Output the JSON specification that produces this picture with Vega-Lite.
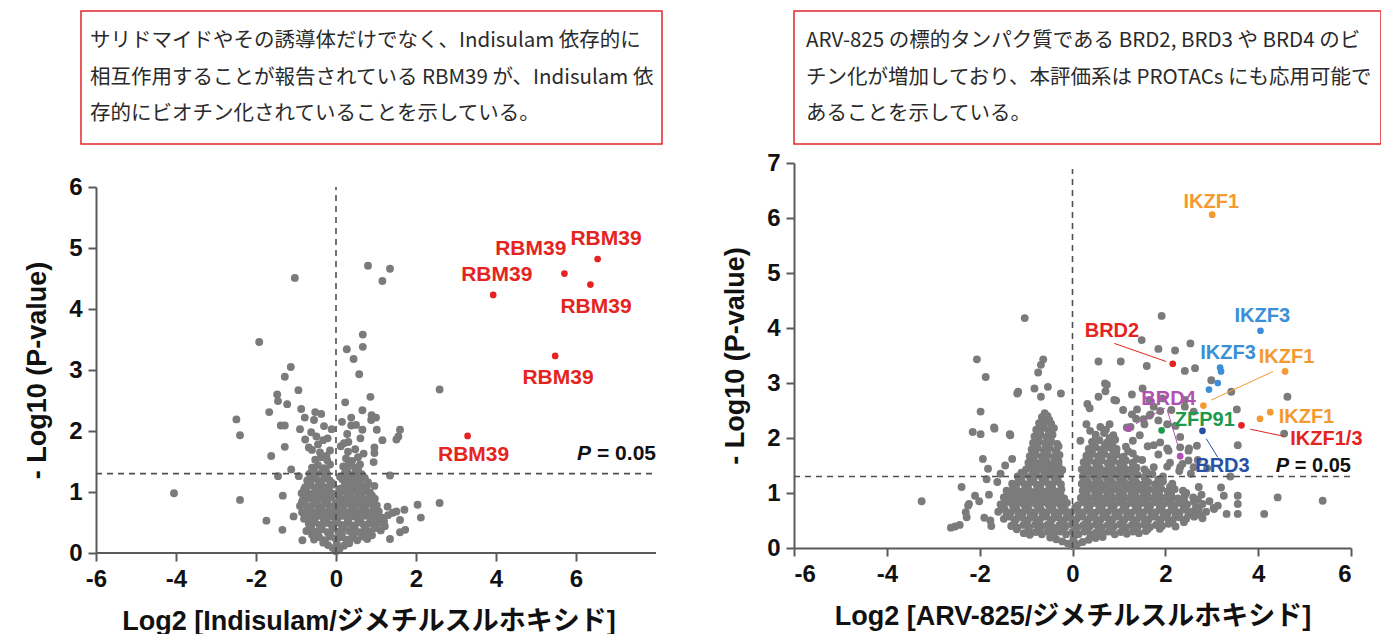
{
"$schema": "https://vega.github.io/schema/vega-lite/v6.json",
"background": "white",
"padding": {"left": 23, "top": 10, "right": 0, "bottom": 0},
"config": {
  "view": {"stroke": null},
  "font": "Liberation Sans",
  "axis": {"grid": false, "domainColor": "#5a5a5a", "domainWidth": 2, "tickColor": "#5a5a5a", "tickWidth": 2, "tickSize": 8,
    "labelFont": "Liberation Sans", "labelFontSize": 24, "labelFontWeight": "bold", "labelColor": "#111",
    "titleFont": "Liberation Sans, Noto Sans CJK JP", "titleFontSize": 27, "titleFontWeight": "bold", "titleColor": "#111",
    "labelExpr": "'' + datum.value"},
  "axisX": {"labelPadding": 6, "titlePadding": 17},
  "axisY": {"labelPadding": 6, "titlePadding": 17}
},
"datasets": {
  "boxL": [
    {"line": 1, "t": "サリドマイドやその誘導体だけでなく、Indisulam 依存的に"},
    {"line": 2, "t": "相互作用することが報告されている RBM39 が、Indisulam 依"},
    {"line": 3, "t": "存的にビオチン化されていることを示している。"}
  ],
  "boxR": [
    {"line": 1, "t": "ARV-825 の標的タンパク質である BRD2, BRD3 や BRD4 のビオ"},
    {"line": 2, "t": "チン化が増加しており、本評価系は PROTACs にも応用可能で"},
    {"line": 3, "t": "あることを示している。"}
  ],
  "gL": [
    {"x":-1.03,"y":4.51},{"x":0.80,"y":4.71},{"x":1.35,"y":4.66},{"x":1.16,"y":4.46},{"x":-1.92,"y":3.46},{"x":0.67,"y":3.58},{"x":0.67,"y":3.38},{"x":0.27,"y":3.34},{"x":0.44,"y":3.18},{"x":0.58,"y":2.93},
    {"x":-1.13,"y":3.05},{"x":-1.28,"y":2.89},{"x":-0.94,"y":2.67},{"x":-1.47,"y":2.60},{"x":-1.45,"y":2.49},{"x":-1.22,"y":2.44},{"x":2.59,"y":2.68},{"x":0.86,"y":2.56},{"x":0.23,"y":2.47},{"x":-2.49,"y":2.19},
    {"x":-2.40,"y":1.93},{"x":-1.67,"y":2.31},{"x":-0.87,"y":2.36},{"x":-0.52,"y":2.31},{"x":-0.37,"y":2.28},{"x":-0.78,"y":2.22},{"x":-0.55,"y":2.18},{"x":-1.38,"y":2.09},{"x":-1.28,"y":2.09},{"x":-0.90,"y":2.03},
    {"x":-0.11,"y":2.03},{"x":0.66,"y":2.34},{"x":0.38,"y":2.22},{"x":0.38,"y":2.09},{"x":0.89,"y":2.26},{"x":1.00,"y":2.22},{"x":0.88,"y":2.18},{"x":1.02,"y":2.02},{"x":1.60,"y":2.02},{"x":1.51,"y":1.86},
    {"x":1.56,"y":1.91},{"x":1.16,"y":1.85},{"x":0.66,"y":2.02},{"x":0.61,"y":1.88},{"x":0.31,"y":1.82},{"x":0.12,"y":1.75},{"x":-0.21,"y":1.88},{"x":-0.32,"y":1.85},{"x":-0.49,"y":1.91},{"x":-0.77,"y":1.86},
    {"x":-0.68,"y":1.73},{"x":-0.60,"y":1.69},{"x":-1.28,"y":1.74},{"x":-1.62,"y":1.59},{"x":-0.24,"y":1.59},{"x":0.96,"y":1.73},{"x":0.96,"y":1.64},{"x":0.69,"y":1.63},{"x":0.94,"y":1.49},{"x":-1.12,"y":1.37},
    {"x":-1.45,"y":1.26},{"x":1.35,"y":1.27},{"x":-0.93,"y":1.26},{"x":0.96,"y":1.10},{"x":-4.05,"y":0.98},{"x":-2.40,"y":0.87},{"x":-1.33,"y":0.94},{"x":-1.74,"y":0.53},{"x":-1.34,"y":0.38},{"x":-0.84,"y":0.21},
    {"x":-1.06,"y":0.60},{"x":2.59,"y":0.82},{"x":2.04,"y":0.79},{"x":2.12,"y":0.58},{"x":1.71,"y":0.71},{"x":1.73,"y":0.38},{"x":1.60,"y":0.34},{"x":1.35,"y":0.23},{"x":1.11,"y":0.56},{"x":1.29,"y":0.76},
    {"x":1.51,"y":0.68},{"x":1.60,"y":0.54},
    {"x":0.0,"y":0.03},{"x":-0.08,"y":0.08},{"x":0.09,"y":0.07},{"x":-0.2,"y":0.13},{"x":0.2,"y":0.12},{"x":0.02,"y":0.15},{"x":-0.32,"y":0.17},{"x":0.33,"y":0.16},
    {"x":-0.55,"y":0.22},{"x":-0.42,"y":0.26},{"x":-0.28,"y":0.21},{"x":-0.15,"y":0.27},{"x":-0.02,"y":0.24},{"x":0.12,"y":0.26},{"x":0.26,"y":0.22},{"x":0.4,"y":0.25},{"x":0.53,"y":0.21},{"x":0.66,"y":0.27},{"x":0.78,"y":0.23},{"x":-0.6,"y":0.3},{"x":0.9,"y":0.29},
    {"x":-0.74,"y":0.36},{"x":-0.62,"y":0.41},{"x":-0.49,"y":0.35},{"x":-0.35,"y":0.39},{"x":-0.21,"y":0.34},{"x":-0.08,"y":0.4},{"x":0.06,"y":0.35},{"x":0.19,"y":0.41},{"x":0.33,"y":0.36},{"x":0.47,"y":0.4},{"x":0.6,"y":0.34},{"x":0.73,"y":0.39},{"x":0.87,"y":0.35},{"x":1.0,"y":0.41},{"x":1.12,"y":0.37},
    {"x":-0.68,"y":0.48},{"x":-0.55,"y":0.5},{"x":-0.41,"y":0.46},{"x":-0.27,"y":0.49},{"x":-0.13,"y":0.47},{"x":0.01,"y":0.5},{"x":0.14,"y":0.46},{"x":0.28,"y":0.49},{"x":0.41,"y":0.45},{"x":0.55,"y":0.5},{"x":0.68,"y":0.47},{"x":0.82,"y":0.48},{"x":0.95,"y":0.46},{"x":1.08,"y":0.5},{"x":1.22,"y":0.44},
    {"x":-0.8,"y":0.56},{"x":-0.66,"y":0.6},{"x":-0.52,"y":0.57},{"x":-0.38,"y":0.61},{"x":-0.24,"y":0.56},{"x":-0.1,"y":0.6},{"x":0.04,"y":0.57},{"x":0.17,"y":0.61},{"x":0.31,"y":0.56},{"x":0.45,"y":0.6},{"x":0.58,"y":0.56},{"x":0.72,"y":0.61},{"x":0.86,"y":0.57},{"x":0.99,"y":0.6},{"x":1.15,"y":0.58},{"x":1.3,"y":0.62},
    {"x":-0.85,"y":0.67},{"x":-0.72,"y":0.7},{"x":-0.58,"y":0.66},{"x":-0.44,"y":0.7},{"x":-0.3,"y":0.67},{"x":-0.16,"y":0.71},{"x":-0.03,"y":0.66},{"x":0.1,"y":0.7},{"x":0.24,"y":0.67},{"x":0.38,"y":0.71},{"x":0.51,"y":0.66},{"x":0.65,"y":0.7},{"x":0.79,"y":0.67},{"x":0.93,"y":0.71},{"x":1.07,"y":0.68},{"x":1.42,"y":0.66},
    {"x":-0.9,"y":0.77},{"x":-0.77,"y":0.8},{"x":-0.63,"y":0.76},{"x":-0.49,"y":0.8},{"x":-0.35,"y":0.77},{"x":-0.21,"y":0.81},{"x":-0.08,"y":0.76},{"x":0.05,"y":0.8},{"x":0.19,"y":0.77},{"x":0.33,"y":0.81},{"x":0.46,"y":0.76},{"x":0.6,"y":0.8},{"x":0.74,"y":0.77},{"x":0.88,"y":0.81},{"x":1.02,"y":0.78},
    {"x":-0.82,"y":0.88},{"x":-0.68,"y":0.9},{"x":-0.54,"y":0.87},{"x":-0.4,"y":0.9},{"x":-0.26,"y":0.88},{"x":-0.12,"y":0.91},{"x":0.12,"y":0.87},{"x":0.26,"y":0.9},{"x":0.4,"y":0.88},{"x":0.54,"y":0.91},{"x":0.68,"y":0.87},{"x":0.82,"y":0.9},{"x":0.97,"y":0.89},
    {"x":-0.86,"y":0.98},{"x":-0.73,"y":1.0},{"x":-0.59,"y":0.97},{"x":-0.45,"y":1.01},{"x":-0.31,"y":0.98},{"x":-0.17,"y":1.02},{"x":-0.05,"y":0.97},{"x":0.15,"y":1.01},{"x":0.29,"y":0.98},{"x":0.43,"y":1.02},{"x":0.57,"y":0.97},{"x":0.71,"y":1.01},{"x":0.85,"y":0.99},
    {"x":-0.77,"y":1.08},{"x":-0.63,"y":1.11},{"x":-0.49,"y":1.07},{"x":-0.35,"y":1.1},{"x":-0.21,"y":1.08},{"x":-0.08,"y":1.12},{"x":0.2,"y":1.09},{"x":0.34,"y":1.12},{"x":0.48,"y":1.08},{"x":0.62,"y":1.11},{"x":0.77,"y":1.09},
    {"x":-0.72,"y":1.19},{"x":-0.58,"y":1.22},{"x":-0.44,"y":1.18},{"x":-0.3,"y":1.22},{"x":-0.16,"y":1.19},{"x":0.16,"y":1.21},{"x":0.3,"y":1.18},{"x":0.44,"y":1.22},{"x":0.58,"y":1.19},{"x":0.72,"y":1.23},
    {"x":-0.66,"y":1.3},{"x":-0.5,"y":1.28},{"x":-0.36,"y":1.32},{"x":-0.22,"y":1.29},{"x":0.22,"y":1.31},{"x":0.36,"y":1.28},{"x":0.5,"y":1.32},{"x":0.64,"y":1.29},
    {"x":-0.6,"y":1.4},{"x":-0.45,"y":1.44},{"x":-0.3,"y":1.39},{"x":-0.15,"y":1.45},{"x":0.18,"y":1.42},{"x":0.32,"y":1.46},{"x":0.47,"y":1.4},{"x":0.6,"y":1.45},
    {"x":-0.52,"y":1.53},{"x":-0.38,"y":1.57},{"x":-0.22,"y":1.52},{"x":0.25,"y":1.55},{"x":0.4,"y":1.51},{"x":0.55,"y":1.57},
    {"x":-0.4,"y":1.65},{"x":-0.15,"y":1.68},{"x":0.3,"y":1.66},{"x":0.48,"y":1.7},
    {"x":-0.45,"y":1.78},{"x":0.2,"y":1.8},{"x":0.28,"y":1.95},{"x":-0.62,"y":1.98},{"x":0.5,"y":2.1},{"x":-0.3,"y":2.08},{"x":0.15,"y":2.15},
    {"x":-0.45,"y":0.31},{"x":-0.15,"y":0.32},{"x":0.15,"y":0.31},{"x":0.45,"y":0.32},{"x":0.75,"y":0.31},
    {"x":-0.6,"y":0.53},{"x":-0.3,"y":0.53},{"x":0.0,"y":0.54},{"x":0.3,"y":0.53},{"x":0.6,"y":0.53},{"x":0.9,"y":0.54},{"x":1.2,"y":0.52},
    {"x":-0.73,"y":0.63},{"x":-0.45,"y":0.64},{"x":-0.17,"y":0.63},{"x":0.1,"y":0.64},{"x":0.38,"y":0.63},{"x":0.66,"y":0.64},{"x":0.94,"y":0.63},
    {"x":-0.7,"y":0.74},{"x":-0.42,"y":0.73},{"x":-0.14,"y":0.74},{"x":0.12,"y":0.73},{"x":0.4,"y":0.74},{"x":0.68,"y":0.73},{"x":0.95,"y":0.74},
    {"x":-0.85,"y":0.84},{"x":-0.56,"y":0.83},{"x":-0.28,"y":0.84},{"x":0.0,"y":0.83},{"x":0.26,"y":0.84},{"x":0.54,"y":0.83},{"x":0.82,"y":0.84},
    {"x":-0.75,"y":0.94},{"x":-0.47,"y":0.93},{"x":-0.19,"y":0.94},{"x":0.08,"y":0.93},{"x":0.36,"y":0.94},{"x":0.64,"y":0.93},{"x":0.9,"y":0.94},
    {"x":-0.8,"y":1.04},{"x":-0.52,"y":1.05},{"x":-0.24,"y":1.04},{"x":0.08,"y":1.05},{"x":0.36,"y":1.04},{"x":0.64,"y":1.05},
    {"x":-0.65,"y":1.15},{"x":-0.37,"y":1.14},{"x":-0.1,"y":1.15},{"x":0.25,"y":1.14},{"x":0.52,"y":1.15},{"x":0.8,"y":1.16},
    {"x":-0.52,"y":1.25},{"x":-0.24,"y":1.26},{"x":0.1,"y":1.25},{"x":0.3,"y":1.26},{"x":0.57,"y":1.25},
    {"x":-0.55,"y":1.36},{"x":-0.25,"y":1.35},{"x":0.28,"y":1.36},{"x":0.55,"y":1.37}
  ],
  "hL": [
    {"x":6.54,"y":4.82,"g":"RBM39"},{"x":5.71,"y":4.58,"g":"RBM39"},{"x":6.36,"y":4.40,"g":"RBM39"},{"x":3.93,"y":4.23,"g":"RBM39"},{"x":5.48,"y":3.23,"g":"RBM39"},{"x":3.29,"y":1.92,"g":"RBM39"}
  ],
  "lL": [
    {"t":"RBM39","x":6.75,"y":5.15,"g":"RBM39"},{"t":"RBM39","x":4.87,"y":4.99,"g":"RBM39"},{"t":"RBM39","x":4.02,"y":4.56,"g":"RBM39"},{"t":"RBM39","x":6.5,"y":4.04,"g":"RBM39"},{"t":"RBM39","x":5.55,"y":2.87,"g":"RBM39"},{"t":"RBM39","x":3.44,"y":1.6,"g":"RBM39"}
  ],
  "gR": [
    {"x":-1.03,"y":4.18},{"x":1.92,"y":4.22},{"x":1.49,"y":3.78},{"x":1.85,"y":3.62},{"x":2.21,"y":3.59},{"x":2.54,"y":3.72},{"x":0.56,"y":3.39},{"x":1.04,"y":3.39},{"x":1.6,"y":3.31},{"x":2.42,"y":3.22},
    {"x":2.64,"y":3.27},{"x":2.99,"y":3.05},{"x":3.42,"y":2.84},{"x":4.63,"y":2.75},{"x":3.54,"y":2.52},{"x":3.56,"y":1.87},{"x":4.56,"y":2.08},{"x":-2.06,"y":3.43},{"x":-1.87,"y":3.11},{"x":-0.63,"y":3.43},
    {"x":-0.68,"y":3.33},{"x":-0.74,"y":3.19},{"x":-1.17,"y":2.84},{"x":-0.82,"y":2.9},{"x":-0.53,"y":2.93},{"x":-0.25,"y":2.81},{"x":-0.68,"y":2.75},{"x":-1.98,"y":2.48},{"x":-1.68,"y":2.17},{"x":-2.15,"y":2.11},
    {"x":-1.98,"y":2.07},{"x":-1.34,"y":2.05},{"x":-1.93,"y":1.62},{"x":-1.82,"y":1.44},{"x":-2.39,"y":1.11},{"x":-2.25,"y":0.77},{"x":-3.25,"y":0.85},{"x":-2.53,"y":0.39},{"x":-2.62,"y":0.37},{"x":-2.01,"y":0.85},
    {"x":-1.77,"y":0.5},{"x":4.13,"y":0.62},{"x":4.42,"y":0.92},{"x":5.39,"y":0.86},{"x":3.56,"y":0.95},{"x":3.56,"y":0.8},{"x":3.56,"y":0.62},{"x":3.26,"y":0.95},{"x":3.13,"y":0.77},{"x":3.04,"y":0.73},
    {"x":3.32,"y":0.62},{"x":2.7,"y":0.68},{"x":-2.23,"y":0.8},{"x":-2.28,"y":0.56},{"x":-2.43,"y":0.42},{"x":-1.8,"y":0.97},
    {"x":0.74,"y":2.97},{"x":0.71,"y":2.85},{"x":0.32,"y":2.62},{"x":0.94,"y":2.68},{"x":1.28,"y":2.79},{"x":1.39,"y":2.52},{"x":1.51,"y":2.9},{"x":1.66,"y":2.69},{"x":1.75,"y":2.57},{"x":0.37,"y":2.54},
    {"x":1.09,"y":2.51},{"x":1.37,"y":2.35},{"x":1.66,"y":2.41},{"x":1.85,"y":2.32},{"x":1.94,"y":2.72},{"x":2.13,"y":2.51},{"x":2.42,"y":2.57},{"x":2.61,"y":2.48},{"x":2.42,"y":2.69},{"x":1.75,"y":1.87},
    {"x":2.04,"y":1.81},{"x":2.04,"y":1.48},{"x":2.51,"y":1.81},{"x":2.32,"y":2.02},{"x":2.37,"y":1.53},{"x":-1.19,"y":2.81},{"x":-1.69,"y":2.19},{"x":-1.35,"y":2.07},{"x":0.17,"y":1.95},{"x":0.38,"y":2.13},
    {"x":1.17,"y":2.19},{"x":1.28,"y":2.43},{"x":1.53,"y":2.34},{"x":1.68,"y":2.43},{"x":1.89,"y":2.49},{"x":2.04,"y":2.25},{"x":2.22,"y":2.22},{"x":1.89,"y":1.92},{"x":2.07,"y":1.77},{"x":2.32,"y":1.83},
    {"x":2.5,"y":1.77},{"x":2.68,"y":1.86},{"x":2.5,"y":1.59},{"x":2.61,"y":1.47},{"x":2.72,"y":1.11},{"x":2.32,"y":1.47},{"x":0.9,"y":2.69},{"x":0.56,"y":2.75},{"x":0.7,"y":2.99},
    {"x":-1.45,"y":1.5},{"x":-1.3,"y":1.62},{"x":-1.55,"y":1.35},{"x":-1.62,"y":1.2},{"x":-2.3,"y":0.65},{"x":-2.1,"y":0.95},{"x":-1.85,"y":1.25},{"x":-1.75,"y":0.4},{"x":-1.9,"y":0.55},
    {"x":1.3,"y":1.95},{"x":1.45,"y":2.05},{"x":1.62,"y":1.85},{"x":1.85,"y":1.7},{"x":2.1,"y":1.55},{"x":2.3,"y":1.4},{"x":2.55,"y":1.35},{"x":2.7,"y":1.6},{"x":2.9,"y":1.45},{"x":3.2,"y":1.1},{"x":3.4,"y":1.3},{"x":1.25,"y":2.2},{"x":1.55,"y":2.25},{"x":0.3,"y":2.25},
    {"x":0.0,"y":0.03},{"x":-0.1,"y":0.08},{"x":0.1,"y":0.07},{"x":-0.22,"y":0.12},{"x":0.22,"y":0.11},{"x":-0.35,"y":0.16},{"x":0.35,"y":0.15},{"x":0.5,"y":0.18},{"x":-0.48,"y":0.19},{"x":0.65,"y":0.2},{"x":0.02,"y":0.17},
    {"x":-1.05,"y":0.27},{"x":-0.92,"y":0.24},{"x":-0.79,"y":0.29},{"x":-0.66,"y":0.25},{"x":-0.53,"y":0.3},{"x":-0.4,"y":0.26},{"x":-0.27,"y":0.3},{"x":-0.14,"y":0.25},{"x":0.0,"y":0.29},{"x":0.13,"y":0.25},{"x":0.26,"y":0.3},{"x":0.39,"y":0.25},{"x":0.52,"y":0.29},{"x":0.65,"y":0.26},{"x":0.78,"y":0.3},{"x":0.91,"y":0.25},{"x":1.04,"y":0.29},{"x":1.17,"y":0.26},{"x":1.3,"y":0.3},{"x":1.43,"y":0.27},{"x":1.58,"y":0.31},
    {"x":-1.32,"y":0.4},{"x":-1.19,"y":0.37},{"x":-1.06,"y":0.42},{"x":-0.93,"y":0.38},{"x":-0.8,"y":0.43},{"x":-0.67,"y":0.39},{"x":-0.54,"y":0.42},{"x":-0.41,"y":0.37},{"x":-0.28,"y":0.42},{"x":-0.15,"y":0.39},{"x":-0.02,"y":0.43},{"x":0.11,"y":0.38},{"x":0.24,"y":0.42},{"x":0.37,"y":0.39},{"x":0.5,"y":0.43},{"x":0.63,"y":0.38},{"x":0.76,"y":0.42},{"x":0.89,"y":0.39},{"x":1.02,"y":0.43},{"x":1.15,"y":0.38},{"x":1.28,"y":0.42},{"x":1.41,"y":0.39},{"x":1.54,"y":0.43},{"x":1.67,"y":0.38},{"x":1.8,"y":0.42},{"x":1.93,"y":0.4},{"x":2.07,"y":0.44},{"x":2.22,"y":0.39},
    {"x":-1.48,"y":0.53},{"x":-1.35,"y":0.57},{"x":-1.22,"y":0.52},{"x":-1.09,"y":0.56},{"x":-0.96,"y":0.51},{"x":-0.83,"y":0.56},{"x":-0.7,"y":0.52},{"x":-0.57,"y":0.57},{"x":-0.44,"y":0.52},{"x":-0.31,"y":0.56},{"x":-0.18,"y":0.51},{"x":-0.05,"y":0.56},{"x":0.08,"y":0.52},{"x":0.21,"y":0.57},{"x":0.34,"y":0.52},{"x":0.47,"y":0.56},{"x":0.6,"y":0.51},{"x":0.73,"y":0.56},{"x":0.86,"y":0.52},{"x":0.99,"y":0.57},{"x":1.12,"y":0.52},{"x":1.25,"y":0.56},{"x":1.38,"y":0.51},{"x":1.51,"y":0.56},{"x":1.64,"y":0.52},{"x":1.77,"y":0.57},{"x":1.9,"y":0.52},{"x":2.03,"y":0.56},{"x":2.16,"y":0.51},{"x":2.3,"y":0.56},{"x":2.45,"y":0.53},{"x":2.62,"y":0.57},{"x":2.8,"y":0.54},
    {"x":-1.6,"y":0.66},{"x":-1.46,"y":0.7},{"x":-1.33,"y":0.65},{"x":-1.2,"y":0.69},{"x":-1.07,"y":0.64},{"x":-0.94,"y":0.69},{"x":-0.81,"y":0.65},{"x":-0.68,"y":0.7},{"x":-0.55,"y":0.65},{"x":-0.42,"y":0.69},{"x":-0.29,"y":0.64},{"x":-0.16,"y":0.69},{"x":-0.03,"y":0.65},{"x":0.1,"y":0.7},{"x":0.23,"y":0.65},{"x":0.36,"y":0.69},{"x":0.49,"y":0.64},{"x":0.62,"y":0.69},{"x":0.75,"y":0.65},{"x":0.88,"y":0.7},{"x":1.01,"y":0.65},{"x":1.14,"y":0.69},{"x":1.27,"y":0.64},{"x":1.4,"y":0.69},{"x":1.53,"y":0.65},{"x":1.66,"y":0.7},{"x":1.79,"y":0.65},{"x":1.92,"y":0.69},{"x":2.05,"y":0.64},{"x":2.18,"y":0.69},{"x":2.31,"y":0.65},{"x":2.44,"y":0.7},{"x":2.57,"y":0.66},{"x":2.72,"y":0.7},{"x":2.88,"y":0.66},{"x":3.05,"y":0.71},
    {"x":-1.55,"y":0.79},{"x":-1.42,"y":0.83},{"x":-1.29,"y":0.78},{"x":-1.16,"y":0.82},{"x":-1.03,"y":0.77},{"x":-0.9,"y":0.82},{"x":-0.77,"y":0.78},{"x":-0.64,"y":0.83},{"x":-0.51,"y":0.78},{"x":-0.38,"y":0.82},{"x":-0.25,"y":0.77},{"x":-0.12,"y":0.82},{"x":0.12,"y":0.78},{"x":0.25,"y":0.83},{"x":0.38,"y":0.78},{"x":0.51,"y":0.82},{"x":0.64,"y":0.77},{"x":0.77,"y":0.82},{"x":0.9,"y":0.78},{"x":1.03,"y":0.83},{"x":1.16,"y":0.78},{"x":1.29,"y":0.82},{"x":1.42,"y":0.77},{"x":1.55,"y":0.82},{"x":1.68,"y":0.78},{"x":1.81,"y":0.83},{"x":1.94,"y":0.78},{"x":2.07,"y":0.82},{"x":2.2,"y":0.77},{"x":2.33,"y":0.82},{"x":2.47,"y":0.79},{"x":2.62,"y":0.84},{"x":2.8,"y":0.8},{"x":2.95,"y":0.85},
    {"x":-1.48,"y":0.92},{"x":-1.35,"y":0.96},{"x":-1.22,"y":0.91},{"x":-1.09,"y":0.95},{"x":-0.96,"y":0.9},{"x":-0.83,"y":0.95},{"x":-0.7,"y":0.91},{"x":-0.57,"y":0.96},{"x":-0.44,"y":0.91},{"x":-0.31,"y":0.95},{"x":-0.18,"y":0.9},{"x":0.18,"y":0.91},{"x":0.31,"y":0.96},{"x":0.44,"y":0.91},{"x":0.57,"y":0.95},{"x":0.7,"y":0.9},{"x":0.83,"y":0.95},{"x":0.96,"y":0.91},{"x":1.09,"y":0.96},{"x":1.22,"y":0.91},{"x":1.35,"y":0.95},{"x":1.48,"y":0.9},{"x":1.61,"y":0.95},{"x":1.74,"y":0.91},{"x":1.87,"y":0.96},{"x":2.0,"y":0.91},{"x":2.13,"y":0.95},{"x":2.27,"y":0.9},{"x":2.42,"y":0.95},{"x":2.6,"y":0.92},{"x":2.78,"y":0.97},
    {"x":-1.42,"y":1.04},{"x":-1.28,"y":1.08},{"x":-1.15,"y":1.03},{"x":-1.02,"y":1.07},{"x":-0.89,"y":1.02},{"x":-0.76,"y":1.07},{"x":-0.63,"y":1.03},{"x":-0.5,"y":1.08},{"x":-0.37,"y":1.03},{"x":-0.24,"y":1.07},{"x":0.22,"y":1.04},{"x":0.35,"y":1.08},{"x":0.48,"y":1.03},{"x":0.61,"y":1.07},{"x":0.74,"y":1.02},{"x":0.87,"y":1.07},{"x":1.0,"y":1.03},{"x":1.13,"y":1.08},{"x":1.26,"y":1.03},{"x":1.39,"y":1.07},{"x":1.52,"y":1.02},{"x":1.65,"y":1.07},{"x":1.78,"y":1.03},{"x":1.91,"y":1.08},{"x":2.05,"y":1.03},{"x":2.2,"y":1.07},{"x":2.38,"y":1.04},
    {"x":-1.3,"y":1.17},{"x":-1.16,"y":1.2},{"x":-1.03,"y":1.16},{"x":-0.9,"y":1.2},{"x":-0.77,"y":1.15},{"x":-0.64,"y":1.2},{"x":-0.51,"y":1.16},{"x":-0.38,"y":1.21},{"x":-0.25,"y":1.16},{"x":0.2,"y":1.17},{"x":0.33,"y":1.21},{"x":0.46,"y":1.16},{"x":0.59,"y":1.2},{"x":0.72,"y":1.15},{"x":0.85,"y":1.2},{"x":0.98,"y":1.16},{"x":1.11,"y":1.21},{"x":1.24,"y":1.16},{"x":1.37,"y":1.2},{"x":1.5,"y":1.15},{"x":1.63,"y":1.2},{"x":1.78,"y":1.16},{"x":1.95,"y":1.21},{"x":2.15,"y":1.17},
    {"x":-1.18,"y":1.3},{"x":-1.05,"y":1.34},{"x":-0.92,"y":1.29},{"x":-0.79,"y":1.33},{"x":-0.66,"y":1.28},{"x":-0.53,"y":1.33},{"x":-0.4,"y":1.29},{"x":-0.27,"y":1.34},{"x":0.22,"y":1.3},{"x":0.35,"y":1.34},{"x":0.48,"y":1.29},{"x":0.61,"y":1.33},{"x":0.74,"y":1.28},{"x":0.87,"y":1.33},{"x":1.0,"y":1.29},{"x":1.13,"y":1.34},{"x":1.26,"y":1.29},{"x":1.4,"y":1.33},{"x":1.55,"y":1.29},{"x":1.72,"y":1.34},{"x":1.95,"y":1.3},
    {"x":-1.0,"y":1.43},{"x":-0.87,"y":1.47},{"x":-0.74,"y":1.42},{"x":-0.61,"y":1.46},{"x":-0.48,"y":1.41},{"x":-0.35,"y":1.46},{"x":-0.22,"y":1.42},
    {"x":-0.95,"y":1.55},{"x":-0.82,"y":1.58},{"x":-0.69,"y":1.54},{"x":-0.56,"y":1.58},{"x":-0.43,"y":1.53},{"x":-0.3,"y":1.57},
    {"x":-0.92,"y":1.67},{"x":-0.79,"y":1.7},{"x":-0.66,"y":1.66},{"x":-0.53,"y":1.7},{"x":-0.4,"y":1.65},{"x":-0.28,"y":1.69},
    {"x":-0.88,"y":1.79},{"x":-0.75,"y":1.82},{"x":-0.62,"y":1.78},{"x":-0.49,"y":1.82},{"x":-0.36,"y":1.77},
    {"x":-0.85,"y":1.91},{"x":-0.72,"y":1.94},{"x":-0.59,"y":1.9},{"x":-0.46,"y":1.94},{"x":-0.33,"y":1.89},
    {"x":-0.82,"y":2.03},{"x":-0.69,"y":2.06},{"x":-0.56,"y":2.02},{"x":-0.43,"y":2.06},
    {"x":-0.78,"y":2.15},{"x":-0.65,"y":2.18},{"x":-0.52,"y":2.14},{"x":-0.4,"y":2.18},
    {"x":-0.72,"y":2.27},{"x":-0.58,"y":2.3},{"x":-0.46,"y":2.26},{"x":-0.66,"y":2.38},{"x":-0.54,"y":2.4},
    {"x":0.2,"y":1.43},{"x":0.33,"y":1.47},{"x":0.46,"y":1.42},{"x":0.59,"y":1.46},{"x":0.72,"y":1.41},{"x":0.85,"y":1.46},{"x":0.98,"y":1.42},{"x":1.11,"y":1.47},{"x":1.24,"y":1.42},{"x":1.38,"y":1.46},{"x":1.55,"y":1.43},{"x":1.75,"y":1.47},
    {"x":0.24,"y":1.56},{"x":0.37,"y":1.59},{"x":0.5,"y":1.55},{"x":0.63,"y":1.59},{"x":0.76,"y":1.54},{"x":0.89,"y":1.58},{"x":1.02,"y":1.54},{"x":1.15,"y":1.59},{"x":1.3,"y":1.55},{"x":1.5,"y":1.6},
    {"x":0.3,"y":1.68},{"x":0.43,"y":1.71},{"x":0.56,"y":1.67},{"x":0.69,"y":1.71},{"x":0.82,"y":1.66},{"x":0.95,"y":1.7},{"x":1.1,"y":1.66},{"x":1.3,"y":1.72},
    {"x":0.35,"y":1.8},{"x":0.5,"y":1.83},{"x":0.63,"y":1.79},{"x":0.78,"y":1.83},{"x":0.95,"y":1.8},{"x":1.15,"y":1.84},
    {"x":0.42,"y":1.93},{"x":0.58,"y":1.96},{"x":0.75,"y":1.92},{"x":0.92,"y":1.97},{"x":0.5,"y":2.06},{"x":0.68,"y":2.09},{"x":0.88,"y":2.05},{"x":0.6,"y":2.2},{"x":0.8,"y":2.25},
    {"x":-1.2,"y":0.34},{"x":-0.95,"y":0.33},{"x":-0.7,"y":0.35},{"x":-0.45,"y":0.34},{"x":-0.2,"y":0.35},{"x":0.06,"y":0.33},{"x":0.32,"y":0.35},{"x":0.58,"y":0.34},{"x":0.84,"y":0.35},{"x":1.1,"y":0.33},{"x":1.36,"y":0.35},{"x":1.62,"y":0.34},{"x":1.88,"y":0.35},
    {"x":-1.25,"y":0.47},{"x":-0.99,"y":0.48},{"x":-0.73,"y":0.47},{"x":-0.47,"y":0.48},{"x":-0.21,"y":0.47},{"x":0.05,"y":0.48},{"x":0.31,"y":0.47},{"x":0.57,"y":0.48},{"x":0.83,"y":0.47},{"x":1.09,"y":0.48},{"x":1.35,"y":0.47},{"x":1.61,"y":0.48},{"x":1.87,"y":0.47},{"x":2.13,"y":0.48},{"x":2.4,"y":0.47},
    {"x":-1.42,"y":0.6},{"x":-1.16,"y":0.61},{"x":-0.9,"y":0.6},{"x":-0.64,"y":0.61},{"x":-0.38,"y":0.6},{"x":-0.12,"y":0.61},{"x":0.14,"y":0.6},{"x":0.4,"y":0.61},{"x":0.66,"y":0.6},{"x":0.92,"y":0.61},{"x":1.18,"y":0.6},{"x":1.44,"y":0.61},{"x":1.7,"y":0.6},{"x":1.96,"y":0.61},{"x":2.22,"y":0.6},{"x":2.5,"y":0.61},{"x":2.75,"y":0.6},
    {"x":-1.5,"y":0.74},{"x":-1.24,"y":0.75},{"x":-0.98,"y":0.74},{"x":-0.72,"y":0.75},{"x":-0.46,"y":0.74},{"x":-0.2,"y":0.75},{"x":0.06,"y":0.74},{"x":0.32,"y":0.75},{"x":0.58,"y":0.74},{"x":0.84,"y":0.75},{"x":1.1,"y":0.74},{"x":1.36,"y":0.75},{"x":1.62,"y":0.74},{"x":1.88,"y":0.75},{"x":2.14,"y":0.74},{"x":2.4,"y":0.75},{"x":2.66,"y":0.74},
    {"x":-1.35,"y":0.87},{"x":-1.09,"y":0.86},{"x":-0.83,"y":0.87},{"x":-0.57,"y":0.86},{"x":-0.31,"y":0.87},{"x":0.3,"y":0.86},{"x":0.56,"y":0.87},{"x":0.82,"y":0.86},{"x":1.08,"y":0.87},{"x":1.34,"y":0.86},{"x":1.6,"y":0.87},{"x":1.86,"y":0.86},{"x":2.12,"y":0.87},{"x":2.4,"y":0.86},{"x":2.7,"y":0.88},
    {"x":-1.3,"y":0.99},{"x":-1.04,"y":1.0},{"x":-0.78,"y":0.99},{"x":-0.52,"y":1.0},{"x":-0.26,"y":0.99},{"x":0.3,"y":1.0},{"x":0.56,"y":0.99},{"x":0.82,"y":1.0},{"x":1.08,"y":0.99},{"x":1.34,"y":1.0},{"x":1.6,"y":0.99},{"x":1.86,"y":1.0},{"x":2.12,"y":0.99},{"x":2.45,"y":1.0},
    {"x":-1.22,"y":1.12},{"x":-0.96,"y":1.11},{"x":-0.7,"y":1.12},{"x":-0.44,"y":1.11},{"x":0.28,"y":1.12},{"x":0.54,"y":1.11},{"x":0.8,"y":1.12},{"x":1.06,"y":1.11},{"x":1.32,"y":1.12},{"x":1.58,"y":1.11},{"x":1.84,"y":1.12},{"x":2.1,"y":1.11},
    {"x":-1.1,"y":1.24},{"x":-0.84,"y":1.25},{"x":-0.58,"y":1.24},{"x":-0.32,"y":1.25},{"x":0.27,"y":1.24},{"x":0.53,"y":1.25},{"x":0.79,"y":1.24},{"x":1.05,"y":1.25},{"x":1.31,"y":1.24},{"x":1.57,"y":1.25},{"x":1.85,"y":1.24},
    {"x":-1.1,"y":1.37},{"x":-0.85,"y":1.38},{"x":-0.6,"y":1.37},{"x":-0.35,"y":1.38},{"x":0.28,"y":1.37},{"x":0.54,"y":1.38},{"x":0.8,"y":1.37},{"x":1.06,"y":1.38},{"x":1.32,"y":1.37},{"x":1.6,"y":1.38},
    {"x":-0.8,"y":1.5},{"x":-0.55,"y":1.5},{"x":-0.3,"y":1.5},{"x":-0.88,"y":1.61},{"x":-0.62,"y":1.62},{"x":-0.36,"y":1.61},{"x":-0.85,"y":1.73},{"x":-0.59,"y":1.74},{"x":-0.34,"y":1.73},{"x":-0.81,"y":1.85},{"x":-0.55,"y":1.86},{"x":-0.3,"y":1.85},
    {"x":-0.76,"y":1.97},{"x":-0.5,"y":1.98},{"x":-0.7,"y":2.1},{"x":-0.47,"y":2.1},{"x":-0.62,"y":2.22},{"x":-0.5,"y":2.33},{"x":-0.6,"y":2.45},
    {"x":0.27,"y":1.5},{"x":0.53,"y":1.5},{"x":0.79,"y":1.5},{"x":1.05,"y":1.5},{"x":1.31,"y":1.5},{"x":0.3,"y":1.62},{"x":0.56,"y":1.63},{"x":0.82,"y":1.62},{"x":1.08,"y":1.63},{"x":1.38,"y":1.62},
    {"x":0.38,"y":1.75},{"x":0.62,"y":1.75},{"x":0.88,"y":1.76},{"x":1.2,"y":1.76},{"x":0.45,"y":1.87},{"x":0.7,"y":1.88},{"x":0.86,"y":1.88},{"x":0.5,"y":2.0},{"x":0.8,"y":2.0},{"x":0.72,"y":2.15}
  ],
  "hR": [
    {"x":3.01,"y":6.06,"g":"IKZF1"},{"x":4.05,"y":3.95,"g":"IKZF3"},{"x":3.18,"y":3.28,"g":"IKZF3"},{"x":3.2,"y":3.21,"g":"IKZF3"},{"x":3.13,"y":3.0,"g":"IKZF3"},{"x":2.94,"y":2.88,"g":"IKZF3"},
    {"x":4.58,"y":3.21,"g":"IKZF1"},{"x":2.82,"y":2.59,"g":"IKZF1"},{"x":4.04,"y":2.35,"g":"IKZF1"},{"x":4.26,"y":2.47,"g":"IKZF1"},
    {"x":2.16,"y":3.35,"g":"BRD2"},{"x":3.64,"y":2.23,"g":"IKZF1/3"},{"x":1.21,"y":2.17,"g":"BRD4"},{"x":2.32,"y":1.67,"g":"BRD4"},{"x":1.92,"y":2.14,"g":"ZFP91"},{"x":2.8,"y":2.13,"g":"BRD3"}
  ],
  "lR": [
    {"t":"IKZF1","x":2.99,"y":6.29,"g":"IKZF1"},{"t":"IKZF3","x":4.09,"y":4.21,"g":"IKZF3"},{"t":"IKZF3","x":3.35,"y":3.55,"g":"IKZF3"},{"t":"IKZF1","x":4.61,"y":3.48,"g":"IKZF1"},
    {"t":"BRD2","x":0.85,"y":3.94,"g":"BRD2"},{"t":"IKZF1","x":5.04,"y":2.38,"g":"IKZF1"},{"t":"IKZF1/3","x":5.47,"y":1.99,"g":"IKZF1/3"},{"t":"BRD4","x":2.07,"y":2.71,"g":"BRD4"},
    {"t":"ZFP91","x":2.85,"y":2.32,"g":"ZFP91"},{"t":"BRD3","x":3.23,"y":1.5,"g":"BRD3"}
  ],
  "aR": [
    {"x":0.9,"y":3.72,"x2":2.02,"y2":3.39,"g":"BRD2"},{"x":4.32,"y":3.21,"x2":2.99,"y2":2.69,"g":"IKZF1"},{"x":1.99,"y":2.54,"x2":1.37,"y2":2.26,"g":"BRD4"},
    {"x":2.04,"y":2.51,"x2":2.28,"y2":1.84,"g":"BRD4"},{"x":2.21,"y":2.29,"x2":2.09,"y2":2.2,"g":"ZFP91"},{"x":3.13,"y":1.65,"x2":2.88,"y2":1.99,"g":"BRD3"},{"x":4.56,"y":2.03,"x2":3.83,"y2":2.16,"g":"IKZF1/3"}
  ]
},
"spacing": 58,
"hconcat": [
  {
    "spacing": 30,
    "vconcat": [
      {
        "width": 581, "height": 133,
        "view": {"stroke": "#e3262c", "strokeWidth": 1.5},
        "data": {"name": "boxL"},
        "mark": {"type": "text", "align": "left", "baseline": "middle", "font": "Noto Sans CJK JP", "fontSize": 20.5, "color": "#2a2a2a", "dx": 9},
        "encoding": {
          "y": {"field": "line", "type": "ordinal", "axis": null, "scale": {"type": "point", "padding": 0.8}},
          "x": {"datum": 0, "type": "quantitative", "scale": {"domain": [0, 1]}, "axis": null},
          "text": {"field": "t"}
        }
      },
      {
        "width": 575, "height": 366,
        "layer": [
          {
            "data": {"name": "gL"},
            "mark": {"type": "circle", "size": 62, "color": "#7b7b7b", "opacity": 1},
            "encoding": {
              "x": {"field": "x", "type": "quantitative", "scale": {"domain": [-6.375, 8], "nice": false, "zero": false},
                    "axis": {"values": [-6, -4, -2, 0, 2, 4, 6], "domain": false, "title": "Log2 [Indisulam/ジメチルスルホキシド]"}},
              "y": {"field": "y", "type": "quantitative", "scale": {"domain": [0, 6], "nice": false},
                    "axis": {"values": [0, 1, 2, 3, 4, 5, 6], "offset": -15, "title": "- Log10 (P-value)"}}
            }
          },
          {
            "data": {"values": [{}]},
            "mark": {"type": "rule", "color": "#5a5a5a", "strokeWidth": 2},
            "encoding": {"x": {"datum": -6}, "x2": {"datum": 8}, "y": {"datum": 0}}
          },
          {
            "data": {"values": [{}]},
            "mark": {"type": "rule", "color": "#505050", "strokeWidth": 1.6, "strokeDash": [6, 5]},
            "encoding": {"x": {"datum": 0}, "y": {"datum": 0}, "y2": {"datum": 6}}
          },
          {
            "data": {"values": [{}]},
            "mark": {"type": "rule", "color": "#505050", "strokeWidth": 1.6, "strokeDash": [6, 5]},
            "encoding": {"x": {"datum": -6}, "x2": {"datum": 8}, "y": {"datum": 1.301}}
          },
          {
            "data": {"name": "hL"},
            "mark": {"type": "circle", "size": 45, "opacity": 1},
            "encoding": {
              "x": {"field": "x", "type": "quantitative"},
              "y": {"field": "y", "type": "quantitative"},
              "color": {"field": "g", "type": "nominal", "legend": null,
                "scale": {"domain": ["RBM39", "IKZF1", "IKZF3", "BRD2", "IKZF1/3", "BRD4", "ZFP91", "BRD3"],
                          "range": ["#e52421", "#f39a31", "#3b8fd6", "#e52421", "#e52421", "#b152b3", "#1c9a4b", "#2651a6"]}}
            }
          },
          {
            "data": {"name": "lL"},
            "mark": {"type": "text", "font": "Liberation Sans", "fontSize": 21, "fontWeight": "bold"},
            "encoding": {
              "x": {"field": "x", "type": "quantitative"},
              "y": {"field": "y", "type": "quantitative"},
              "text": {"field": "t"},
              "color": {"field": "g", "type": "nominal", "legend": null}
            }
          },
          {
            "data": {"values": [{}]},
            "mark": {"type": "text", "align": "right", "baseline": "middle", "font": "Liberation Sans", "fontSize": 21, "fontWeight": "bold", "color": "#111"},
            "encoding": {"x": {"datum": 8}, "y": {"datum": 1.62}, "text": {"value": "= 0.05"}}
          },
          {
            "data": {"values": [{}]},
            "mark": {"type": "text", "align": "right", "baseline": "middle", "font": "Liberation Sans", "fontSize": 21, "fontWeight": "bold", "fontStyle": "italic", "color": "#111", "dx": -65},
            "encoding": {"x": {"datum": 8}, "y": {"datum": 1.62}, "text": {"value": "P"}}
          }
        ]
      }
    ]
  },
  {
    "spacing": 6,
    "vconcat": [
      {
        "width": 587, "height": 133,
        "view": {"stroke": "#e3262c", "strokeWidth": 1.5},
        "data": {"name": "boxR"},
        "mark": {"type": "text", "align": "left", "baseline": "middle", "font": "Noto Sans CJK JP", "fontSize": 20.5, "color": "#2a2a2a", "dx": 12, "limit": 574, "ellipsis": "\u200b"},
        "encoding": {
          "y": {"field": "line", "type": "ordinal", "axis": null, "scale": {"type": "point", "padding": 0.8}},
          "x": {"datum": 0, "type": "quantitative", "scale": {"domain": [0, 1]}, "axis": null},
          "text": {"field": "t"}
        }
      },
      {
        "width": 557, "height": 385,
        "layer": [
          {
            "data": {"name": "gR"},
            "mark": {"type": "circle", "size": 62, "color": "#7b7b7b", "opacity": 1},
            "encoding": {
              "x": {"field": "x", "type": "quantitative", "scale": {"domain": [-6, 6], "nice": false, "zero": false},
                    "axis": {"values": [-6, -4, -2, 0, 2, 4, 6], "title": "Log2 [ARV-825/ジメチルスルホキシド]"}},
              "y": {"field": "y", "type": "quantitative", "scale": {"domain": [0, 7], "nice": false},
                    "axis": {"values": [0, 1, 2, 3, 4, 5, 6, 7], "title": "- Log10 (P-value)"}}
            }
          },
          {
            "data": {"values": [{}]},
            "mark": {"type": "rule", "color": "#505050", "strokeWidth": 1.6, "strokeDash": [6, 5]},
            "encoding": {"x": {"datum": 0}, "y": {"datum": 0}, "y2": {"datum": 6.89}}
          },
          {
            "data": {"values": [{}]},
            "mark": {"type": "rule", "color": "#505050", "strokeWidth": 1.6, "strokeDash": [6, 5]},
            "encoding": {"x": {"datum": -6}, "x2": {"datum": 6}, "y": {"datum": 1.301}}
          },
          {
            "data": {"name": "aR"},
            "mark": {"type": "rule", "strokeWidth": 1},
            "encoding": {
              "x": {"field": "x", "type": "quantitative"},
              "y": {"field": "y", "type": "quantitative"},
              "x2": {"field": "x2"},
              "y2": {"field": "y2"},
              "color": {"field": "g", "type": "nominal", "legend": null,
                "scale": {"domain": ["RBM39", "IKZF1", "IKZF3", "BRD2", "IKZF1/3", "BRD4", "ZFP91", "BRD3"],
                          "range": ["#e52421", "#f39a31", "#3b8fd6", "#e52421", "#e52421", "#b152b3", "#1c9a4b", "#2651a6"]}}
            }
          },
          {
            "data": {"name": "hR"},
            "mark": {"type": "circle", "size": 45, "opacity": 1},
            "encoding": {
              "x": {"field": "x", "type": "quantitative"},
              "y": {"field": "y", "type": "quantitative"},
              "color": {"field": "g", "type": "nominal", "legend": null}
            }
          },
          {
            "data": {"name": "lR"},
            "mark": {"type": "text", "font": "Liberation Sans", "fontSize": 20, "fontWeight": "bold"},
            "encoding": {
              "x": {"field": "x", "type": "quantitative"},
              "y": {"field": "y", "type": "quantitative"},
              "text": {"field": "t"},
              "color": {"field": "g", "type": "nominal", "legend": null}
            }
          },
          {
            "data": {"values": [{}]},
            "mark": {"type": "text", "align": "right", "baseline": "middle", "font": "Liberation Sans", "fontSize": 20, "fontWeight": "bold", "color": "#111"},
            "encoding": {"x": {"datum": 6}, "y": {"datum": 1.5}, "text": {"value": "= 0.05"}}
          },
          {
            "data": {"values": [{}]},
            "mark": {"type": "text", "align": "right", "baseline": "middle", "font": "Liberation Sans", "fontSize": 20, "fontWeight": "bold", "fontStyle": "italic", "color": "#111", "dx": -62},
            "encoding": {"x": {"datum": 6}, "y": {"datum": 1.5}, "text": {"value": "P"}}
          }
        ]
      }
    ]
  }
]
}
